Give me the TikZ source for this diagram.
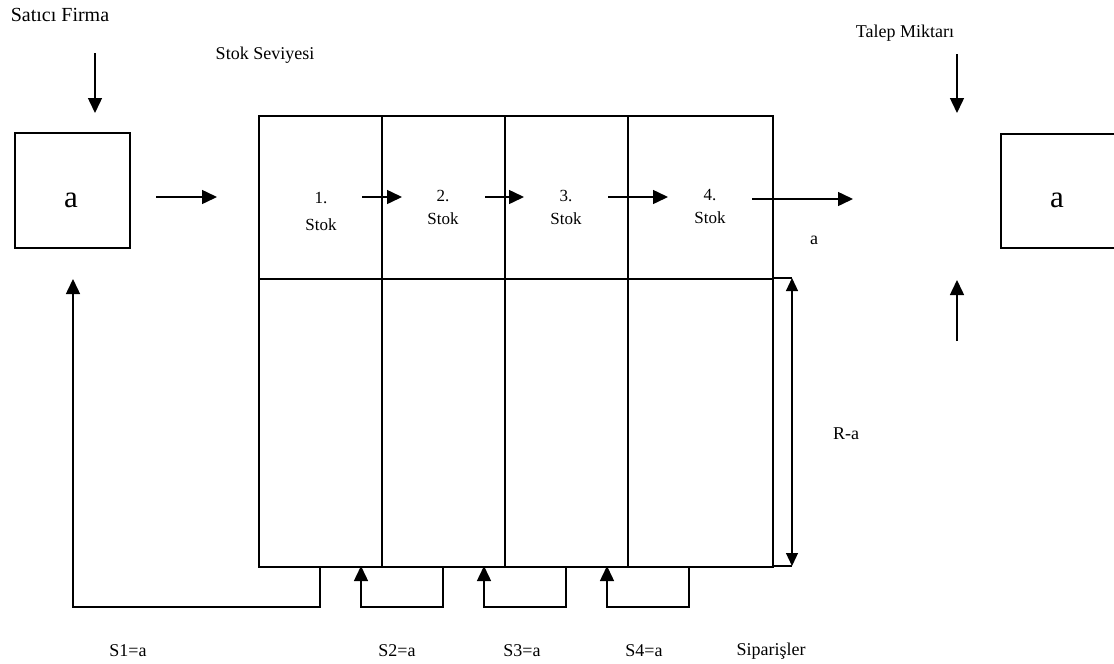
\documentclass[tikz,border=0pt]{standalone}
\usepackage{fontspec}
\setmainfont{Liberation Serif}
\usetikzlibrary{arrows.meta}
\begin{document}
\begin{tikzpicture}[x=1pt,y=-1pt,
  line width=1.5pt,
  lbl/.style={inner sep=0pt,font=\fontsize{18}{20}\selectfont},
  boxtxt/.style={inner sep=0pt,anchor=base,font=\fontsize{31}{33}\selectfont},
  stoktxt/.style={inner sep=0pt,anchor=north,align=center},
  cell/.style={draw,line width=1.5pt,inner sep=0pt,anchor=north west},
  flow/.style={-{Triangle[length=15pt,width=14pt]}},
  dimarr/.style={{Triangle[length=13pt,width=12pt]}-{Triangle[length=13pt,width=12pt]}}]
\useasboundingbox (0,0) rectangle (1114,664);

% supplier and customer boxes
\node[draw,minimum width=115pt,minimum height=115pt,anchor=north west] (sbox) at (14,132) {};
\node[boxtxt] (sa) at (71,207) {a};
\node[draw,minimum width=118pt,minimum height=114pt,anchor=north west] (cbox) at (1000,133) {};
\node[boxtxt] (ca) at (1057,207) {a};

% stock grid: upper row (stock levels) and lower row
\node[cell,minimum width=123pt,minimum height=163pt] (c1) at (258,115) {};
\node[cell,minimum width=123pt,minimum height=163pt] (c2) at (381,115) {};
\node[cell,minimum width=123pt,minimum height=163pt] (c3) at (504,115) {};
\node[cell,minimum width=145pt,minimum height=163pt] (c4) at (627,115) {};
\node[cell,minimum width=123pt,minimum height=288pt] (b1) at (258,278) {};
\node[cell,minimum width=123pt,minimum height=288pt] (b2) at (381,278) {};
\node[cell,minimum width=123pt,minimum height=288pt] (b3) at (504,278) {};
\node[cell,minimum width=145pt,minimum height=288pt] (b4) at (627,278) {};

% stock labels
\begin{scope}
  \clip (260,117) rectangle (379,231);
  \node[stoktxt,font=\fontsize{17}{27}\selectfont] (s1) at (321,192) {1.\\Stok};
\end{scope}
\node[stoktxt,font=\fontsize{17}{23}\selectfont] (s2) at (443,189) {2.\\Stok};
\node[stoktxt,font=\fontsize{17}{23}\selectfont] (s3) at (566,189) {3.\\Stok};
\node[stoktxt,font=\fontsize{17}{23}\selectfont] (s4) at (710,189) {4.\\Stok};

% text labels
\node[inner sep=0pt,font=\fontsize{20}{22}\selectfont] (sat) at (60,15) {Satıcı Firma};
\node[lbl] (sev) at (265,55) {Stok Seviyesi};
\node[lbl] (tal) at (905,33) {Talep Miktarı};
\node[lbl] (la) at (814,240) {a};
\node[lbl] (ra) at (846,434) {R-a};
\node[lbl] (o1) at (128,651) {S1=a};
\node[lbl] (o2) at (397,651) {S2=a};
\node[lbl] (o3) at (522,651) {S3=a};
\node[lbl] (o4) at (644,651) {S4=a};
\node[lbl] (sip) at (771,651) {Siparişler};

% arrow end points
\coordinate (supT) at (95,53);   \coordinate (supH) at (95,113);
\coordinate (inT) at (156,197);  \coordinate (inH) at (217,197);
\coordinate (m1T) at (362,197);  \coordinate (m1H) at (402,197);
\coordinate (m2T) at (485,197);  \coordinate (m2H) at (524,197);
\coordinate (m3T) at (608,197);  \coordinate (m3H) at (668,197);
\coordinate (outT) at (752,199); \coordinate (outH) at (853,199);
\coordinate (dmT) at (957,54);   \coordinate (dmH) at (957,113);
\coordinate (upT) at (957,341);  \coordinate (upH) at (957,280);
\coordinate (fbH) at (73,279);
\coordinate (gridR) at (772,278); \coordinate (gridRB) at (772,566);
\coordinate (dimT) at (792,278); \coordinate (dimB) at (792,566);

% flows
\draw[flow] (supT) -- (supH);
\draw[flow] (inT) -- (inH);
\draw[flow] (m1T) -- (m1H);
\draw[flow] (m2T) -- (m2H);
\draw[flow] (m3T) -- (m3H);
\draw[flow] (outT) -- (outH);
\draw[flow] (dmT) -- (dmH);
\draw[flow] (upT) -- (upH);

% order loops under the grid
\draw[flow] (320,566) -- (320,607) -- (73,607) -- (fbH);
\draw[flow] (443,566) -- (443,607) -- (361,607) -- (361,566);
\draw[flow] (566,566) -- (566,607) -- (484,607) -- (484,566);
\draw[flow] (689,566) -- (689,607) -- (607,607) -- (607,566);

% R-a dimension
\draw (gridR) -- (dimT);
\draw (gridRB) -- (dimB);
\draw[line width=1.2pt,dimarr] (dimT) -- (dimB);
\end{tikzpicture}
\end{document}
